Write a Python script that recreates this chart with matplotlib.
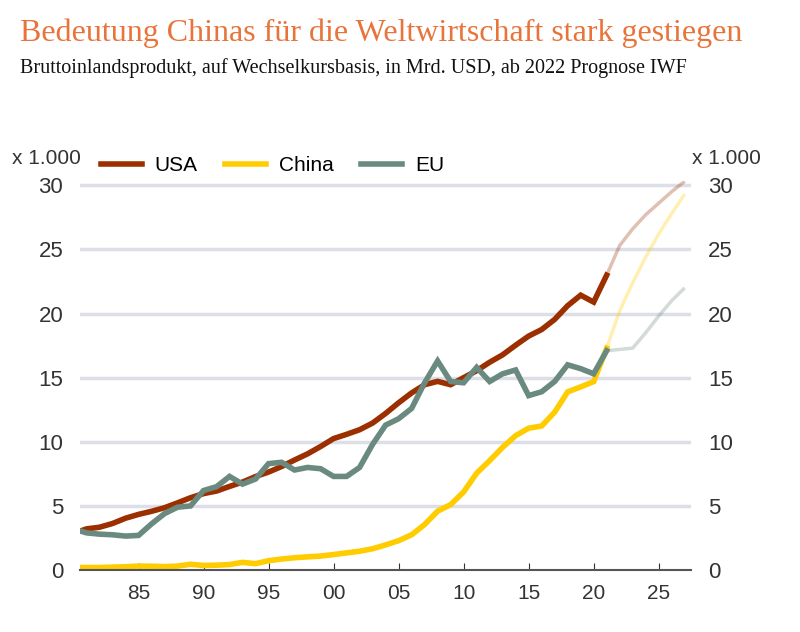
import matplotlib.pyplot as plt
import numpy as np

years = list(range(1980, 2028))
usa = [2.86, 3.21, 3.34, 3.63, 4.04, 4.34, 4.58, 4.86, 5.24, 5.64, 5.96, 6.16, 6.52, 6.86,
       7.29, 7.64, 8.07, 8.58, 9.06, 9.63, 10.25, 10.58, 10.94, 11.46, 12.21, 13.04, 13.81,
       14.45, 14.71, 14.45, 15.0, 15.54, 16.2, 16.78, 17.53, 18.24, 18.75, 19.54, 20.61,
       21.43, 20.89, 22.99, 25.3, 26.6, 27.7, 28.6, 29.5, 30.3]
china = [0.19, 0.2, 0.2, 0.23, 0.26, 0.31, 0.3, 0.27, 0.31, 0.45, 0.36, 0.38, 0.43, 0.6,
         0.5, 0.73, 0.86, 0.96, 1.03, 1.09, 1.21, 1.34, 1.47, 1.66, 1.96, 2.29, 2.75, 3.55,
         4.59, 5.1, 6.09, 7.55, 8.53, 9.57, 10.48, 11.06, 11.23, 12.31, 13.89, 14.28, 14.69,
         17.3, 20.2, 22.4, 24.4, 26.2, 27.8, 29.3]
eu = [3.2, 2.9, 2.8, 2.75, 2.65, 2.7, 3.6, 4.4, 4.9, 5.0, 6.2, 6.5, 7.3, 6.7, 7.1, 8.3,
      8.4, 7.8, 8.0, 7.9, 7.3, 7.3, 8.0, 9.8, 11.3, 11.8, 12.6, 14.6, 16.3, 14.7, 14.6,
      15.8, 14.7, 15.3, 15.6, 13.6, 13.9, 14.7, 16.0, 15.7, 15.3, 17.1, 17.2, 17.3, 18.5,
      19.8, 21.0, 22.0]
last_actual = 2021

series = [('USA', usa, '#9B2F00'), ('China', china, '#FFCC00'), ('EU', eu, '#6A8A80')]
yticks = [0, 5, 10, 15, 20, 25, 30]
xticks = [1985, 1990, 1995, 2000, 2005, 2010, 2015, 2020, 2025]
xlabels = ['85', '90', '95', '00', '05', '10', '15', '20', '25']

plt.rcParams['font.family'] = ['Liberation Sans', 'DejaVu Sans']
fig = plt.figure(figsize=(8, 6.32), dpi=100)
ax = fig.add_axes([0.1, 0.098, 0.764, 0.615])

yrs = np.array(years)
cut = years.index(last_actual)
for name, vals, col in series:
    v = np.array(vals)
    ax.plot(yrs[cut:], v[cut:], color=col, lw=2.5, alpha=0.3, solid_capstyle='butt')
for name, vals, col in series:
    v = np.array(vals)
    ax.plot(yrs[:cut + 1], v[:cut + 1], color=col, lw=4, label=name, solid_joinstyle='miter')

ax.set_xlim(1980.5, 2027.5)
ax.set_ylim(0, 30.3)
ax.set_yticks(yticks)
ax.set_xticks(xticks)
ax.set_xticklabels(xlabels)
for y in yticks[1:]:
    ax.axhline(y, color='#DDDFE8', lw=2.5, zorder=0)
for s in ['top', 'right', 'left']:
    ax.spines[s].set_visible(False)
ax.spines['bottom'].set_color('#555555')
ax.spines['bottom'].set_linewidth(1.5)
ax.tick_params(axis='y', length=0, labelsize=16, colors='#333333', pad=12,
               labelleft=True, labelright=True)
ax.tick_params(axis='x', length=5, labelsize=15, colors='#333333', direction='in', pad=10)

fig.text(0.015, 0.74, 'x 1.000', fontsize=15, color='#333333')
fig.text(0.865, 0.74, 'x 1.000', fontsize=15, color='#333333')
ax.legend(loc='lower left', bbox_to_anchor=(0.02, 0.995), ncol=3, frameon=False,
          fontsize=15, handlelength=2.0, handletextpad=0.6, columnspacing=1.3,
          borderaxespad=0)

fig.text(0.025, 0.935, 'Bedeutung Chinas für die Weltwirtschaft stark gestiegen',
         fontsize=23, color='#E8743B', family='Liberation Serif')
fig.text(0.025, 0.885, 'Bruttoinlandsprodukt, auf Wechselkursbasis, in Mrd. USD, ab 2022 Prognose IWF',
         fontsize=14.5, color='#111111', family='Liberation Serif')

fig.savefig('out.png', dpi=100)
